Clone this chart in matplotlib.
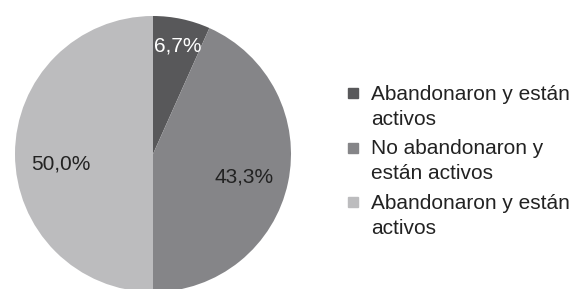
import matplotlib.pyplot as plt
from matplotlib.patches import Rectangle

plt.rcParams['font.family'] = ['Liberation Sans', 'DejaVu Sans']

labels = ['Abandonaron y están\nactivos', 'No abandonaron y\nestán activos', 'Abandonaron y están\nactivos']
values = [6.7, 43.3, 50.0]
colors = ['#58585a', '#858588', '#bcbcbe']
text_colors = ['white', '#222222', '#222222']

W, H = 576, 289
fig = plt.figure(figsize=(W/100, H/100), dpi=100)
ax = fig.add_axes([15/W, -3/H, 276/W, 276/H])

wedges, texts, autotexts = ax.pie(values, colors=colors, startangle=90, counterclock=False,
                                  autopct=lambda p: ('%.1f%%' % p).replace('.', ','),
                                  pctdistance=0.72, textprops={'fontsize': 15})
for t, c in zip(autotexts, text_colors):
    t.set_color(c)
# nudge labels to where they sit in the original
autotexts[0].set_position((0.18, 0.78))
autotexts[1].set_position((0.66, -0.17))
autotexts[2].set_position((-0.67, -0.07))
ax.set_xlim(-1, 1)
ax.set_ylim(-1, 1)
ax.set_aspect('equal')

# legend drawn by hand so the squares line up with the first line of each label
for i, (lab, col) in enumerate(zip(labels, colors)):
    yc = 94 + i * 54.5  # pixel row of first text line (from top)
    fig.patches.append(Rectangle((348/W, 1 - (yc + 4)/H), 10/W, 10/H,
                                 transform=fig.transFigure, color=col))
    fig.text(371/W, 1 - (yc - 9)/H, lab, fontsize=15, color='#222222',
             va='top', ha='left', linespacing=1.38)

fig.savefig('out.png', dpi=100)
